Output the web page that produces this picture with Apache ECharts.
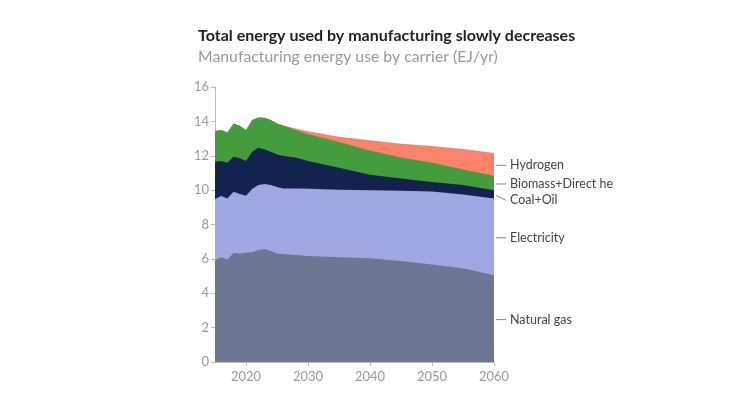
<!DOCTYPE html>
<html>
<head>
<meta charset="utf-8">
<script src="https://cdn.jsdelivr.net/npm/echarts@6/dist/echarts.min.js"></script>
<style>
html,body{margin:0;padding:0;background:#fff;}
#chart{width:729px;height:393px;}
</style>
</head>
<body>
<div id="chart"></div>
<script>
const years = [2015,2016,2017,2018,2019,2020,2021,2022,2023,2024,2025,2026,2027,2028,2029,2030,2035,2040,2045,2050,2055,2060];
const naturalGas = [5.93,6.09,5.97,6.36,6.32,6.36,6.40,6.52,6.57,6.46,6.32,6.28,6.25,6.22,6.20,6.17,6.09,6.03,5.88,5.68,5.45,5.05];
const electricity = [3.55,3.57,3.55,3.55,3.45,3.32,3.66,3.78,3.79,3.84,3.86,3.82,3.85,3.88,3.90,3.91,3.93,3.96,4.09,4.24,4.30,4.47];
const coalOil = [2.17,2.03,2.08,2.03,2.08,2.01,2.17,2.17,2.01,1.93,1.90,1.90,1.84,1.80,1.70,1.62,1.28,0.91,0.71,0.56,0.55,0.47];
const biomass = [1.79,1.81,1.76,1.94,1.90,1.81,1.85,1.76,1.84,1.85,1.80,1.75,1.69,1.60,1.58,1.56,1.50,1.40,1.22,1.12,0.90,0.85];
const hydrogen = [0,0,0,0,0,0,0,0,0,0,0,0.02,0.05,0.08,0.12,0.16,0.30,0.60,0.80,0.97,1.20,1.32];
const seriesNames = ['Natural gas','Electricity','Coal+Oil','Biomass+Direct heat','Hydrogen'];
const xTicks = [2020,2030,2040,2050,2060];
const yTicks = [0,2,4,6,8,10,12,14,16];

const colors = ['#6d7793','#a0a8e3','#14224f','#459c3d','#f9836a'];
const allData = [naturalGas, electricity, coalOil, biomass, hydrogen];
const FONT = 'Lato';

// cumulative tops of each layer (stacked)
const cumulative = [];
allData.forEach((arr, i) => {
  cumulative.push(arr.map((v, k) => (i === 0 ? 0 : cumulative[i - 1][k]) + v));
});

// draw top layer first, lower layers painted over it => stacked look
const areaSeries = allData.map((arr, i) => ({
  name: seriesNames[i],
  type: 'line',
  data: years.map((y, k) => [y, +cumulative[i][k].toFixed(3)]),
  showSymbol: false,
  symbol: 'none',
  lineStyle: {width: 0},
  areaStyle: {color: colors[i], opacity: 1, origin: 'start'},
  itemStyle: {color: colors[i]},
  z: 2 + (allData.length - i) * 0.01
})).reverse();

const last = years.length - 1;
const labelSeries = {
  type: 'custom',
  clip: false,
  silent: true,
  z: 5,
  data: seriesNames.map((n, i) => [i]),
  renderItem: function (params, api) {
    const i = api.value(0);
    const lower = i === 0 ? 0 : cumulative[i - 1][last];
    const mid = (lower + cumulative[i][last]) / 2;
    const pt = api.coord([years[last], mid]);
    const dy = (i === 2) ? 5 : 0;
    const yy = pt[1] + 1;
    const x0 = pt[0] + 2, x1 = pt[0] + 12;
    return {
      type: 'group',
      children: [
        {type: 'line', shape: {x1: x0, y1: yy, x2: x1, y2: yy + dy}, style: {stroke: '#888', lineWidth: 1}},
        {type: 'text', x: x1 + 4, y: yy + dy, style: {
          text: seriesNames[i], fill: '#444', font: '12.5px ' + FONT,
          verticalAlign: 'middle', align: 'left', width: 107, overflow: 'truncate', ellipsis: ''
        }}
      ]
    };
  }
};

const chart = echarts.init(document.getElementById('chart'));
chart.setOption({
  animation: false,
  backgroundColor: '#fff',
  textStyle: {fontFamily: FONT},
  title: {
    text: 'Total energy used by manufacturing slowly decreases',
    subtext: 'Manufacturing energy use by carrier (EJ/yr)',
    left: 198, top: 28, padding: 0,
    itemGap: 5,
    textStyle: {fontFamily: FONT, fontSize: 16, fontWeight: 'bold', color: '#222'},
    subtextStyle: {fontFamily: FONT, fontSize: 15.8, color: '#999'}
  },
  grid: {left: 215, right: 235, top: 87, bottom: 31},
  xAxis: {
    type: 'value', min: 2015, max: 2060,
    axisLine: {show: true, lineStyle: {color: '#bbb'}},
    axisTick: {show: true, customValues: xTicks, length: 4, lineStyle: {color: '#bbb'}},
    axisLabel: {customValues: xTicks, color: '#999', fontSize: 13, fontFamily: FONT, margin: 8,
      formatter: v => String(v)},
    splitLine: {show: false}
  },
  yAxis: {
    type: 'value', min: 0, max: 16, interval: 2,
    axisLine: {show: true, lineStyle: {color: '#bbb'}},
    axisTick: {show: true, length: 4, lineStyle: {color: '#bbb'}},
    axisLabel: {color: '#999', fontSize: 13, fontFamily: FONT, margin: 6},
    splitLine: {show: false}
  },
  series: areaSeries.concat([labelSeries])
});
</script>
</body>
</html>
